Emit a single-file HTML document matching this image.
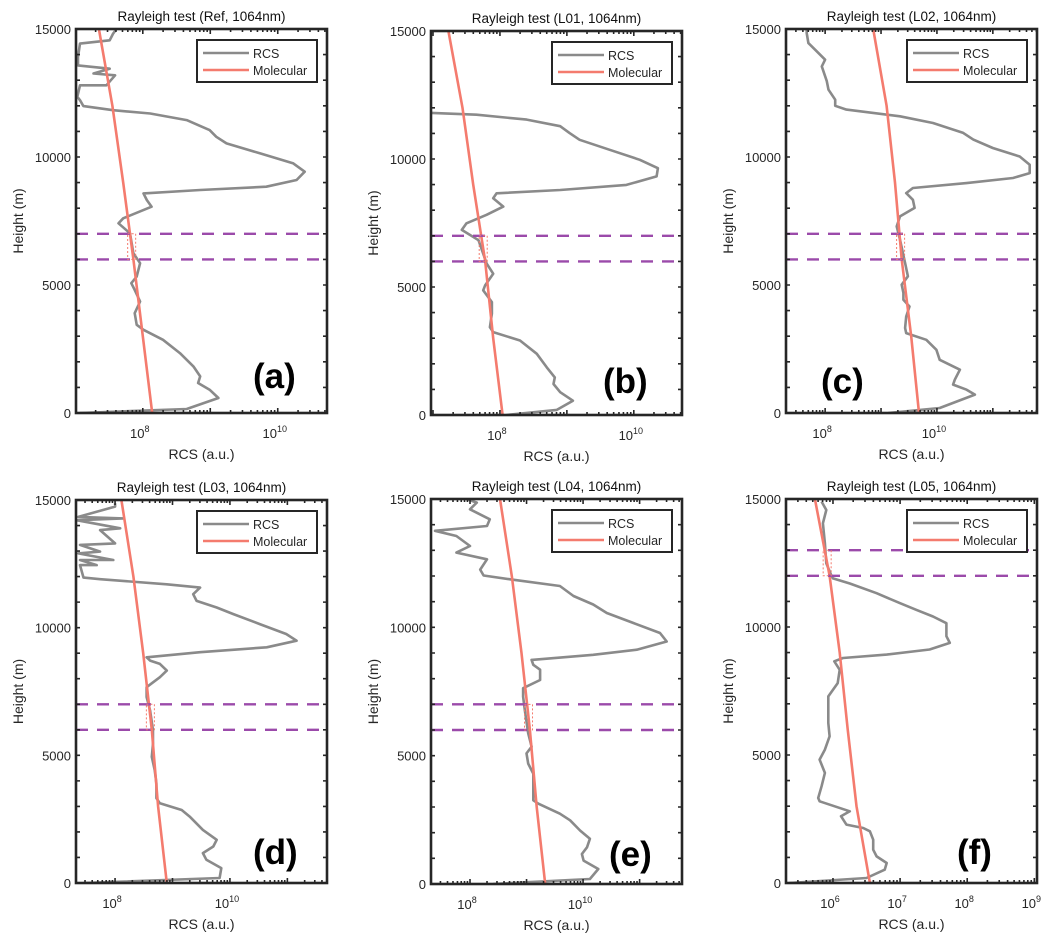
<!DOCTYPE html>
<html><head><meta charset="utf-8"><style>
body{margin:0;background:#fff;}
svg{display:block;font-family:"Liberation Sans",sans-serif;}
</style></head><body>
<svg id="fig" width="1058" height="944" viewBox="0 0 1058 944"></svg>
<script>
// ---- shared data ----
const molHeights=[0,3000,6000,9000,12000,15000];
// ---- panel (a) ----
const aHeights=[0,156,586,911,1171,1431,1820,2340,2860,3250,3445,3900,4355,4810,5070,5330,5850,6240,7020,7410,7605,8060,8320,8580,8710,8840,9100,9425,9750,10140,10530,10790,11050,11440,11700,11830,11990,12220,12350,12800,12800,13190,13260,13450,13580,13910,14430,14560,14820,15000];
const aRcsLog=[7.07,8.65,9.12,8.99,8.82,8.85,8.75,8.55,8.30,8.01,7.91,7.88,7.96,7.88,7.83,7.91,7.96,7.86,7.81,7.64,7.71,8.13,8.06,8.01,8.85,9.83,10.28,10.40,10.23,9.74,9.24,9.09,8.99,8.65,8.11,7.56,7.12,7.07,7.03,7.07,7.46,7.59,7.27,7.51,7.04,7.04,7.07,7.51,7.56,7.61];
const aMolLog=[8.14,8.00,7.86,7.71,7.55,7.35];
// ---- panel (b) ----
const bHeights=[0,200,560,890,1210,1470,1860,2390,2910,3240,3430,3960,4410,4870,5070,5520,5920,6830,7230,7490,7820,8140,8470,8660,8790,8990,9320,9640,9970,10360,10750,11010,11280,11540,11730,11800];
const bRcsLog=[8.10,8.85,9.09,8.90,8.80,8.82,8.70,8.55,8.30,7.90,7.85,7.88,7.88,7.75,7.78,7.90,7.80,7.68,7.43,7.50,7.80,8.05,7.90,7.95,8.90,9.89,10.34,10.36,10.09,9.64,9.19,9.04,8.90,8.40,7.65,6.98];
const bMolLog=[8.04,7.90,7.78,7.60,7.44,7.23];
// ---- panel (c) ----
const cHeights=[0,195,720,910,1110,1300,1690,2080,2470,2860,3120,3320,3770,4160,4420,4690,5010,5340,5860,6770,7290,7680,8010,8330,8590,8790,8980,9180,9370,9700,10020,10350,10680,10940,11330,11590,11850,12000,12240,12630,12960,13540,13800,14190,14450,14840,15000];
const cRcsLog=[9.13,10.05,10.68,10.53,10.29,10.32,10.41,10.05,9.99,9.81,9.45,9.43,9.45,9.51,9.40,9.40,9.37,9.48,9.43,9.34,9.28,9.34,9.60,9.57,9.45,9.57,10.53,11.36,11.66,11.66,11.48,11.00,10.65,10.47,9.93,9.34,8.38,8.18,8.18,8.06,8.03,7.94,8.00,7.82,7.70,7.67,7.67];
const cMolLog=[9.68,9.54,9.37,9.25,9.10,8.86];
// ---- panel (d) ----
const dHeights=[0,195,585,910,1170,1430,1690,2080,2600,2860,3120,3320,3900,4420,4940,5460,5980,6760,7280,7670,8060,8320,8580,8710,8840,9040,9230,9490,9750,10140,10530,10790,11050,11310,11570,11700,11900,11960,12450,12450,12650,12650,12910,12980,13240,13300,13820,13890,14210,14280,14340,14740,14870];
const dRcsLog=[7.45,9.82,9.85,9.59,9.53,9.71,9.77,9.53,9.30,9.16,8.78,8.72,8.72,8.69,8.64,8.66,8.66,8.61,8.55,8.55,8.78,8.90,8.78,8.61,8.55,9.48,10.64,11.16,10.98,10.52,10.06,9.77,9.42,9.36,9.48,8.90,7.74,7.45,7.39,7.68,7.39,7.97,7.36,7.74,7.39,8.00,7.74,8.09,7.33,8.14,7.36,8.00,8.00];
const dMolLog=[8.90,8.75,8.64,8.49,8.32,8.11];
// ---- panel (e) ----
const eHeights=[0,195,585,910,1170,1430,1760,2080,2480,2740,3130,3260,3780,4300,4690,5090,5350,5870,6780,7300,7630,7950,8350,8540,8730,8930,9130,9450,9780,10170,10560,10890,11220,11610,11870,12020,12250,12650,12910,13170,13560,13760,13950,14210,14600,14860,15000];
const eRcsLog=[8.41,10.12,10.27,10.01,9.98,10.07,10.12,9.95,9.77,9.59,9.21,9.12,9.12,9.12,9.03,9.00,9.09,9.03,8.97,8.94,8.94,9.24,9.24,9.12,9.09,10.18,10.95,11.48,11.36,10.89,10.42,10.18,9.83,9.59,8.71,8.24,8.18,8.30,7.76,8.00,7.76,7.38,8.30,8.35,8.00,8.12,7.94];
const eMolLog=[9.33,9.18,9.06,8.91,8.74,8.53];
// ---- panel (f) ----
const fHeights=[0,195,520,780,1040,1300,1690,2020,2150,2280,2610,2800,3190,3320,3780,4300,4820,5210,5730,6250,7030,7290,7550,7810,8330,8660,8790,8920,9120,9380,9640,9900,10150,10410,10670,10930,11320,11700,11900,11990,12490,13270,14050,14570,14900];
const fRcsLog=[5.35,6.50,6.77,6.80,6.65,6.60,6.60,6.55,6.45,6.20,6.12,6.25,5.80,5.78,5.83,5.88,5.80,5.88,5.95,5.93,5.93,5.93,6.00,6.07,6.10,6.02,6.15,6.80,7.44,7.74,7.69,7.69,7.69,7.49,7.24,7.00,6.65,6.25,6.00,5.98,5.90,5.88,5.85,5.90,5.83];
const fMolLog=[6.55,6.35,6.22,6.10,5.95,5.73];
// ---- per panel labels ----
const panelTitles=["Rayleigh test (Ref, 1064nm)","Rayleigh test (L01, 1064nm)","Rayleigh test (L02, 1064nm)","Rayleigh test (L03, 1064nm)","Rayleigh test (L04, 1064nm)","Rayleigh test (L05, 1064nm)"];
const panelLetters=["(a)","(b)","(c)","(d)","(e)","(f)"];
const xTickExps=[[8,10],[8,10],[8,10],[8,10],[8,10],[6,7,8,9]];
const refRanges=[[6000,7000],[6000,7000],[6000,7000],[6000,7000],[6000,7000],[12000,13000]];
const yTickLabels=[0,5000,10000,15000];

const NS="http://www.w3.org/2000/svg";
const svg=document.getElementById('fig');
function mk(tag,attrs,parent){const e=document.createElementNS(NS,tag);for(const k in attrs)e.setAttribute(k,attrs[k]);(parent||svg).appendChild(e);return e;}

const layout=[
 {L:76,R:327,T:29,B:413,lmin:7.01,lmax:10.73,letter:[253,388]},
 {L:431,R:682,T:31,B:415,lmin:6.97,lmax:10.72,letter:[603,393]},
 {L:786,R:1037,T:29,B:413,lmin:7.30,lmax:11.79,letter:[821,393]},
 {L:76,R:327,T:500,B:883,lmin:7.32,lmax:11.69,letter:[253,864]},
 {L:431,R:682,T:499,B:884,lmin:7.31,lmax:11.75,letter:[609,866]},
 {L:786,R:1037,T:499,B:883,lmin:5.30,lmax:9.04,letter:[957,864]}
];
const heights=[aHeights,bHeights,cHeights,dHeights,eHeights,fHeights];
const rcs=[aRcsLog,bRcsLog,cRcsLog,dRcsLog,eRcsLog,fRcsLog];
const mols=[aMolLog,bMolLog,cMolLog,dMolLog,eMolLog,fMolLog];

layout.forEach((p,i)=>{
 const g=mk('g',{});
 
 
 const xs=v=>p.L+(v-p.lmin)/(p.lmax-p.lmin)*(p.R-p.L);
 const ys=h=>p.B-h/15000*(p.B-p.T);
 // clip
 const cid='clip'+i;
 const cp=mk('clipPath',{id:cid},g);mk('rect',{x:p.L,y:p.T,width:p.R-p.L,height:p.B-p.T},cp);
 const plot=mk('g',{'clip-path':'url(#'+cid+')'},g);
 // RCS
 const rl=mk('polyline',{points:heights[i].map((h,k)=>xs(rcs[i][k]).toFixed(1)+','+ys(h).toFixed(1)).join(' '),fill:'none',stroke:'#8a8a8a','stroke-width':2.6,'stroke-linejoin':'round'},plot);
 
 
 // Molecular
 const ml=mk('polyline',{points:molHeights.map((h,k)=>xs(mols[i][k]).toFixed(1)+','+ys(h).toFixed(1)).join(' '),fill:'none',stroke:'#f47b6e','stroke-width':2.6},plot);
 
 
 // reference range dashed lines
 const rr=refRanges[i];
 rr.forEach(h=>{
  const dl=mk('line',{x1:p.L,x2:p.R-8,y1:ys(h),y2:ys(h),stroke:'#9b4aaa','stroke-width':2.4,'stroke-dasharray':'12 9'},plot);
  
  
 });
 // small fit box
 const interp=h=>{for(let k=0;k<molHeights.length-1;k++){if(h<=molHeights[k+1]){const t=(h-molHeights[k])/(molHeights[k+1]-molHeights[k]);return mols[i][k]+t*(mols[i][k+1]-mols[i][k]);}}return mols[i][mols[i].length-1];};
 const mx=xs(interp((rr[0]+rr[1])/2));
 const fb=mk('rect',{x:mx-4,y:ys(rr[1]),width:8,height:ys(rr[0])-ys(rr[1]),fill:'none',stroke:'#f47b6e','stroke-width':1,'stroke-dasharray':'2 2'},plot);
 
 
 // ticks
 let tk='';
 for(let d=Math.floor(p.lmin);d<=Math.ceil(p.lmax);d++){
  for(let k=1;k<=9;k++){const v=d+Math.log10(k);if(v<p.lmin||v>p.lmax)continue;const x=xs(v);const len=k===1?5:3;
   tk+=`M${x},${p.B}v${-len}M${x},${p.T}v${len}`;}
 }
 for(let h=0;h<=15000;h+=1000){const y=ys(h);tk+=`M${p.L},${y}h4M${p.R},${y}h-4`;}
 mk('path',{d:tk,stroke:'#262626','stroke-width':1.6,fill:'none'},g);
 // frame
 const fr=mk('rect',{x:p.L,y:p.T,width:p.R-p.L,height:p.B-p.T,fill:'none',stroke:'#262626','stroke-width':2.6},g);
 
 
 // x tick labels
 xTickExps[i].forEach(e=>{
  const t=mk('text',{x:xs(e)-3,y:p.B+25,'font-size':13,fill:'#262626','text-anchor':'middle'},g);
  
  
  t.textContent='10';
  const s=mk('tspan',{dy:-6,'font-size':9},t);s.textContent=e;
 });
 yTickLabels.forEach(h=>{
  const t=mk('text',{x:p.L-5,y:ys(h)+5,'font-size':13,fill:'#262626','text-anchor':'end'},g);
  
  
  t.textContent=h;
 });
 const xl=mk('text',{x:(p.L+p.R)/2,y:p.B+46,'font-size':14,fill:'#262626','text-anchor':'middle'},g);
 
 
 xl.textContent='RCS (a.u.)';
 const yx=p.L-53, yy=(p.T+p.B)/2;
 const yl=mk('text',{x:yx,y:yy,'font-size':14,fill:'#262626','text-anchor':'middle',transform:`rotate(-90 ${yx} ${yy})`},g);
 
 
 yl.textContent='Height (m)';
 const ti=mk('text',{x:(p.L+p.R)/2,y:p.T-8,'font-size':13.5,fill:'#111','text-anchor':'middle'},g);
 
 
 ti.textContent=panelTitles[i];
 // legend
 const lx=p.R-130, ly=p.T+11;
 const lg=mk('g',{},g);
 
 
 mk('rect',{x:lx,y:ly,width:120,height:42,fill:'#fff',stroke:'#262626','stroke-width':2},lg);
 mk('line',{x1:lx+6,x2:lx+52,y1:ly+13,y2:ly+13,stroke:'#8a8a8a','stroke-width':2.6},lg);
 mk('line',{x1:lx+6,x2:lx+52,y1:ly+30,y2:ly+30,stroke:'#f47b6e','stroke-width':2.6},lg);
 const t1=mk('text',{x:lx+56,y:ly+18,'font-size':12.5,fill:'#262626'},lg);t1.textContent='RCS';
 
 
 const t2=mk('text',{x:lx+56,y:ly+35,'font-size':12.5,fill:'#262626'},lg);t2.textContent='Molecular';
 
 
 // panel letter
 const pl=mk('text',{x:p.letter[0],y:p.letter[1],'font-size':35,'font-weight':'bold',fill:'#000'},g);
 
 
 pl.textContent=panelLetters[i];
});
</script>
</body></html>
